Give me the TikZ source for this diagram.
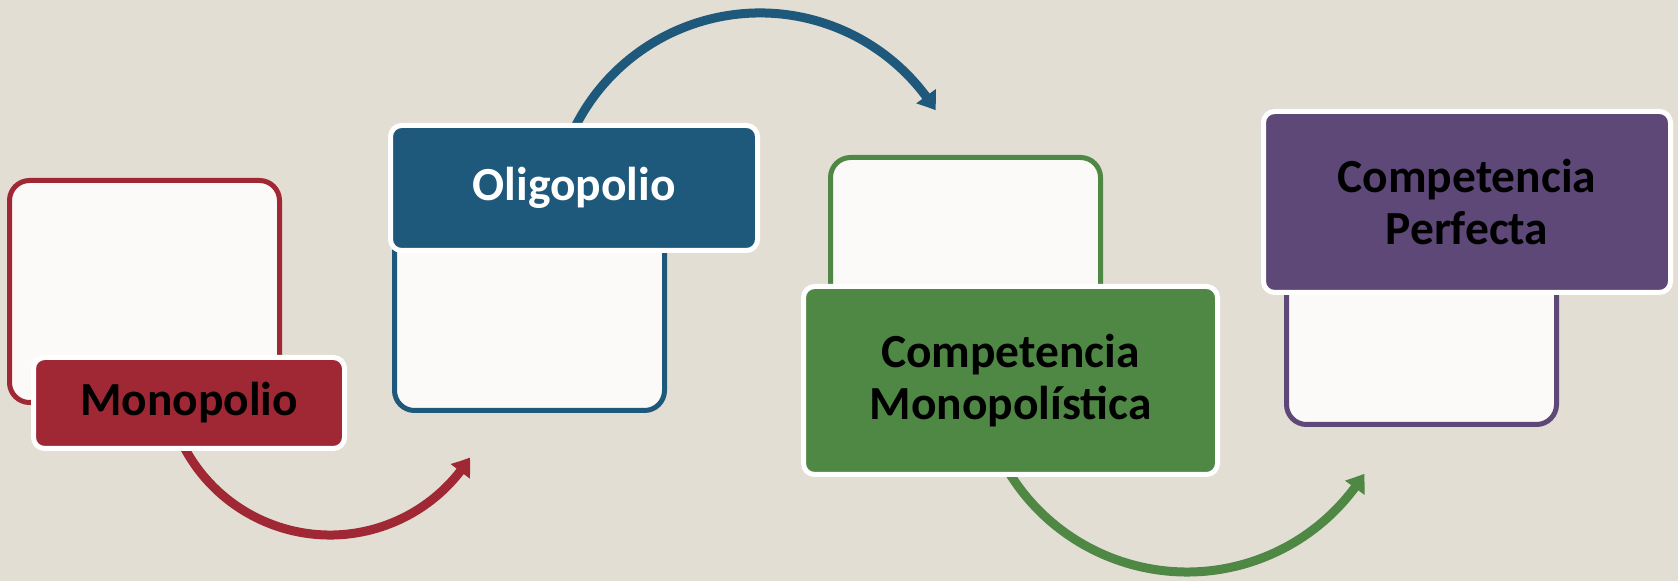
\documentclass[tikz,border=0pt]{standalone}
\usepackage{fontspec}
\setmainfont{Carlito}
\usetikzlibrary{arrows.meta,bending}
\definecolor{bg}{RGB}{227,222,211}
\definecolor{paper}{RGB}{251,250,248}
\definecolor{cred}{RGB}{160,40,53}
\definecolor{cblue}{RGB}{30,88,122}
\definecolor{cgreen}{RGB}{79,135,68}
\definecolor{cpurple}{RGB}{94,72,120}
\begin{document}
\begin{tikzpicture}[x=1pt,y=1pt,
  backbox/.style={draw=#1, line width=5pt, fill=paper, rounded corners=20pt,
    minimum width=270pt, minimum height=222pt, inner sep=0pt, outer sep=0pt},
  labelbox/.style={draw=white, line width=5pt, fill=#1, rounded corners=11pt,
    inner sep=0pt, outer sep=0pt, align=center,
    font=\fontsize{47.5pt}{52pt}\selectfont\bfseries},
  flow/.style={draw=#1, line width=9pt, -{Triangle[length=17pt,width=23pt,bend]}}
]
\fill[bg] (0,0) rectangle (1678,581);
\useasboundingbox (0,0) rectangle (1678,581);

% back boxes
\node[backbox=cred]    (b1) at (144.5,289.5) {};
\node[backbox=cblue]   (b2) at (529.5,281.5) {};
\node[backbox=cgreen]  (b3) at (965.5,312.5) {};
\node[backbox=cpurple] (b4) at (1421.5,267.5) {};

% arrows
\coordinate (a1) at (174.95,154.57);
\coordinate (a2) at (572.4,448.5);
\coordinate (a3) at (997.6,129.7);
\draw[flow=cred]   (a1) arc[start angle=200, end angle=328, radius=165pt];
\draw[flow=cblue]  (a2) arc[start angle=155, end angle=32, radius=207pt];
\draw[flow=cgreen] (a3) arc[start angle=205, end angle=328, radius=209pt];

% labels
\node[labelbox=cred, minimum width=311pt, minimum height=91pt, text=black]
  (l1) at (189,178) {Monopolio};
\node[labelbox=cblue, minimum width=367pt, minimum height=125pt, text=white]
  (l2) at (574,393) {Oligopolio};
\node[labelbox=cgreen, minimum width=414pt, minimum height=188pt, text=black]
  (l3) at (1010.5,200.5) {Competencia\\Monopolística};
\node[labelbox=cpurple, minimum width=407pt, minimum height=181pt, text=black]
  (l4) at (1467,379) {Competencia\\Perfecta};
\end{tikzpicture}
\end{document}
